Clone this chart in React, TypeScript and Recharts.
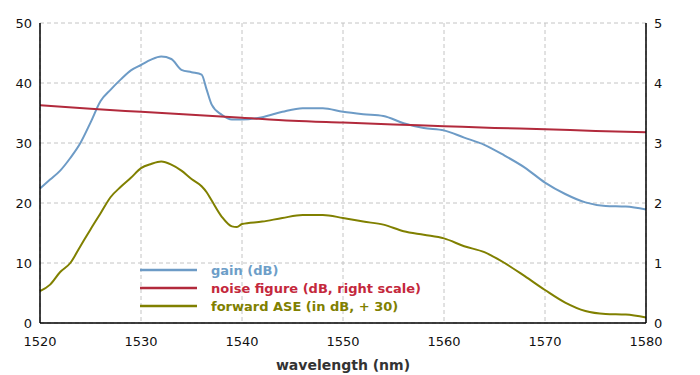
import React from "react";
import {
  LineChart,
  Line,
  XAxis,
  YAxis,
  CartesianGrid,
} from "recharts";

// wavelength grid (nm) for gain and forward ASE
const wavelengths = [
  1520, 1521, 1522, 1523, 1524, 1525, 1526, 1527, 1528, 1529, 1530, 1531,
  1532, 1533, 1534, 1535, 1536, 1536.5, 1537, 1538, 1539, 1539.5, 1540, 1542,
  1544, 1546, 1548, 1550, 1552, 1554, 1556, 1558, 1560, 1562, 1564, 1566,
  1568, 1570, 1572, 1574, 1576, 1578, 1580,
];

const gainDb = [
  22.4, 23.9, 25.4, 27.5, 30.0, 33.4, 37.0, 38.9, 40.6, 42.1, 43.0, 43.9,
  44.4, 44.0, 42.2, 41.8, 41.4, 38.9, 36.4, 34.7, 33.9, 33.9, 33.9, 34.3,
  35.2, 35.8, 35.8, 35.2, 34.8, 34.5, 33.3, 32.5, 32.1, 30.9, 29.7, 27.9,
  25.9, 23.4, 21.5, 20.1, 19.5, 19.4, 18.9,
];

const aseDb = [
  5.3, 6.4, 8.5, 10.0, 12.8, 15.6, 18.3, 21.0, 22.7, 24.2, 25.8, 26.5, 26.9,
  26.4, 25.4, 24.0, 22.8, 21.8, 20.4, 17.7, 16.1, 16.0, 16.5, 16.9, 17.5,
  18.0, 18.0, 17.5, 16.9, 16.4, 15.3, 14.7, 14.1, 12.8, 11.8, 10.0, 7.8, 5.5,
  3.4, 2.0, 1.5, 1.4, 0.9,
];

// noise figure, read against the right scale
const nfWavelengths = [
  1520, 1525, 1530, 1535, 1540, 1545, 1550, 1555, 1560, 1565, 1570, 1575,
  1580,
];
const nfDb = [
  3.63, 3.57, 3.52, 3.47, 3.42, 3.37, 3.34, 3.31, 3.28, 3.25, 3.23, 3.2,
  3.18,
];

const xTicks = [1520, 1530, 1540, 1550, 1560, 1570, 1580];
const leftTicks = [0, 10, 20, 30, 40, 50];
const rightTicks = [0, 1, 2, 3, 4, 5];

const seriesNames = [
  "gain (dB)",
  "noise figure (dB, right scale)",
  "forward ASE (in dB, + 30)",
];
const seriesColors = ["#6d9bc6", "#b22a3c", "#808000"];
const labelColors = ["#6d9ec8", "#c4283c", "#808000"];

const gainData = wavelengths.map((wl, i) => ({ wl, value: gainDb[i] }));
const aseData = wavelengths.map((wl, i) => ({ wl, value: aseDb[i] }));
const nfData = nfWavelengths.map((wl, i) => ({ wl, value: nfDb[i] }));

const FONT = "'DejaVu Sans', Verdana, sans-serif";
const tickStyle = { fill: "#111", fontSize: 13, fontFamily: FONT };

function ChartLegend() {
  return (
    <div
      style={{
        position: "absolute",
        left: 140,
        top: 261,
        fontFamily: FONT,
        fontWeight: "bold",
        fontSize: 13,
      }}
    >
      {seriesNames.map((name, i) => (
        <div
          key={name}
          style={{ display: "flex", alignItems: "center", height: 18 }}
        >
          <svg width={57} height={4} style={{ marginRight: 14 }}>
            <line
              x1={0}
              y1={2}
              x2={57}
              y2={2}
              stroke={seriesColors[i]}
              strokeWidth={2.5}
            />
          </svg>
          <span style={{ color: labelColors[i] }}>{name}</span>
        </div>
      ))}
    </div>
  );
}

export default function App() {
  return (
    <div
      style={{
        position: "absolute",
        left: 0,
        top: 0,
        width: 700,
        height: 375,
        background: "#fff",
      }}
    >
      <LineChart
        width={700}
        height={375}
        margin={{ top: 23, right: 0, left: 0, bottom: 0 }}
        style={{ fontFamily: FONT }}
      >
        <CartesianGrid
          stroke="#c4c4c4"
          strokeDasharray="4 3"
          yAxisId="left"
        />
        <XAxis
          dataKey="wl"
          type="number"
          domain={[1520, 1580]}
          ticks={xTicks}
          height={52}
          axisLine={{ stroke: "#000", strokeWidth: 1.5 }}
          tickLine={false}
          tickMargin={8}
          tick={tickStyle}
          allowDuplicatedCategory={false}
          label={{
            value: "wavelength (nm)",
            position: "insideBottom",
            offset: 5,
            style: {
              fontFamily: FONT,
              fontWeight: "bold",
              fontSize: 14,
              fill: "#333",
            },
          }}
        />
        <XAxis
          xAxisId="top"
          dataKey="wl"
          type="number"
          orientation="top"
          domain={[1520, 1580]}
          ticks={xTicks}
          height={0}
          mirror
          tickSize={5}
          tickFormatter={() => ""}
          axisLine={{ stroke: "#000", strokeWidth: 1.5 }}
          tickLine={{ stroke: "#000", strokeWidth: 1.5 }}
        />
        <YAxis
          yAxisId="left"
          domain={[0, 50]}
          ticks={leftTicks}
          width={40}
          axisLine={{ stroke: "#000", strokeWidth: 1.5 }}
          tickLine={false}
          tick={tickStyle}
        />
        <YAxis
          yAxisId="right"
          orientation="right"
          domain={[0, 5]}
          ticks={rightTicks}
          width={54}
          axisLine={{ stroke: "#000", strokeWidth: 1.5 }}
          tickLine={false}
          tick={tickStyle}
        />
        <Line
          data={gainData}
          dataKey="value"
          yAxisId="left"
          type="monotone"
          stroke={seriesColors[0]}
          strokeWidth={2}
          dot={false}
          isAnimationActive={false}
          name={seriesNames[0]}
        />
        <Line
          data={nfData}
          dataKey="value"
          yAxisId="right"
          type="monotone"
          stroke={seriesColors[1]}
          strokeWidth={2}
          dot={false}
          isAnimationActive={false}
          name={seriesNames[1]}
        />
        <Line
          data={aseData}
          dataKey="value"
          yAxisId="left"
          type="monotone"
          stroke={seriesColors[2]}
          strokeWidth={2}
          dot={false}
          isAnimationActive={false}
          name={seriesNames[2]}
        />
      </LineChart>
      <ChartLegend />
    </div>
  );
}
